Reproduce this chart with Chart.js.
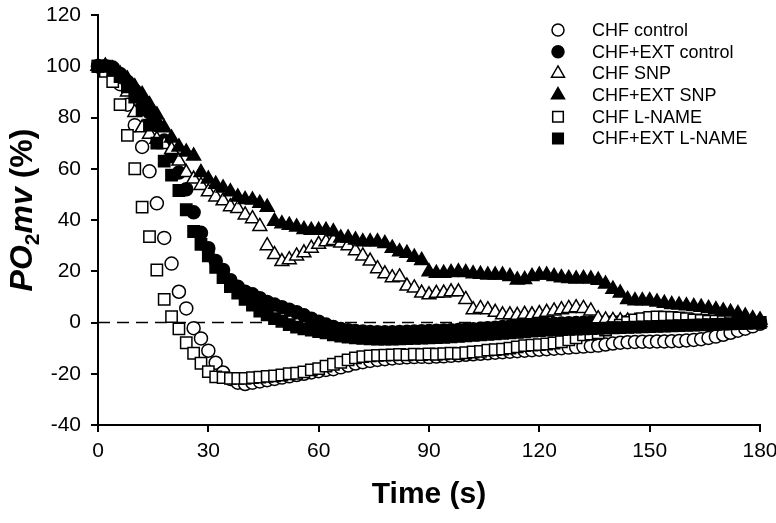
<!DOCTYPE html>
<html><head><meta charset="utf-8">
<script src="https://cdn.jsdelivr.net/npm/chart.js@4/dist/chart.umd.min.js"></script>
<style>html,body{margin:0;padding:0;background:#fff}#wrap{width:776px;height:523px}</style>
</head><body><div id="wrap"><canvas id="c" width="776" height="523"></canvas></div>
<script>
// ---- data (time in s, PO2mv in % of baseline) ----
const times = [0,2,4,6,8,10,12,14,16,18,20,22,24,26,28,30,32,34,36,38,40,42,44,46,48,50,52,54,56,58,
60,62,64,66,68,70,72,74,76,78,80,82,84,86,88,90,92,94,96,98,100,102,104,106,108,110,112,114,116,118,
120,122,124,126,128,130,132,134,136,138,140,142,144,146,148,150,152,154,156,158,160,162,164,166,168,170,172,174,176,178,180];

const seriesNames = ['CHF control','CHF+EXT control','CHF SNP','CHF+EXT SNP','CHF L-NAME','CHF+EXT L-NAME'];

const chfControl = [100,99.5,97.5,93,85,77,68.5,59,46.5,33,
 23,12,5.5,-2.2,-6.2,-11,-15.7,-19.5,-22,-23.5,
 -24,-23.5,-23,-22.5,-22,-21.5,-21,-20.5,-20,-19.5,
 -19,-18.5,-18.2,-17.5,-16.8,-16,-15.5,-15,-14.6,-14.3,
 -14,-13.8,-13.6,-13.5,-13.4,-13.5,-13.3,-13.2,-13,-12.8,
 -12.6,-12.4,-12.2,-12,-11.8,-11.6,-11.4,-11.2,-11,-10.8,
 -10.6,-10.4,-10.2,-10,-9.8,-9.6,-9.4,-9.2,-9,-8.6,
 -8.2,-7.9,-7.7,-7.6,-7.5,-7.5,-7.4,-7.4,-7.3,-7.2,
 -7,-6.8,-6.5,-6,-5.5,-4.8,-4,-3.2,-2.4,-1.5,
 -0.5];

const extControl = [100,100,99.5,97,94,90.5,87,82,77,71,
 65,58.5,52,43,35,29,24,20.5,16.5,14,
 12,11,9.5,8,7,6,5,4,2.8,1.5,
 0.3,-0.8,-1.8,-2.5,-3,-3.3,-3.5,-3.7,-3.8,-3.8,
 -3.8,-3.7,-3.6,-3.5,-3.4,-3.3,-3.2,-3.1,-3,-2.9,
 -2.8,-2.6,-2.4,-2.2,-2,-1.8,-1.6,-1.4,-1.2,-1,
 -0.8,-0.6,-0.5,-0.4,-0.3,-0.2,-0.1,0,0,0.1,
 0.2,0.2,0.3,0.3,0.3,0.3,0.3,0.3,0.2,0.2,
 0.2,0.2,0.1,0.1,0.1,0.1,0,0,0,0,
 0];

const chfSNP = [100,100,98,95,90,82,76,73.5,71.5,69.5,
 67.5,63,58.5,56,53.5,51,49,47.5,45.2,44.5,
 42,40.5,37.5,30,26.5,23.8,24.5,26,27.2,29,
 30.5,31.5,32,31,30,28,26,24,21,19,
 17.5,17.8,14.2,13.5,11.5,10.8,11.4,11.5,12,12,
 9,5,5.5,5,4,3,3,2.8,3.2,3,
 3.5,4,4.5,5,5.5,5.8,5.5,4.5,1.5,1,
 0.8,0.7,0.6,0.5,0.5,0.5,0.6,0.5,0.4,0.4,
 0.3,0.3,0.3,0.2,0.2,0.3,0.5,1,0.5,0.2,
 0];

const extSNP = [100,100,99,97,95,92,89,85,81,76,
 72,68.5,66.5,65,58.5,56,54,52.5,51,49,
 48,47.8,46.5,45,39.5,38.5,38,37.3,36.3,36,
 36,36,35.4,33,33,32.2,31.5,31.5,31.5,30.8,
 29,27.6,27,25.5,24.2,19.8,19.2,19.2,19.5,19.8,
 19.5,19,18.8,18.5,18.5,18.5,18,16.6,16.8,18,
 18.5,18.5,18,17.5,17.2,17,17.2,17,16.5,15,
 13,11.5,9,8.5,8.5,8.5,8,7.5,7,6.8,
 6.5,6.2,6,5.5,5,4.5,4,3.5,2.5,1.5,
 1];

const chfLNAME = [100,98,94,85,73,60,45,33.5,20.5,9,
 2.3,-2.5,-7.9,-12,-15.9,-19.2,-21.2,-21.5,-21.8,-21.8,
 -21.8,-21.5,-21.3,-21,-20.8,-20.5,-20,-19.8,-19.3,-18.5,
 -18,-17,-16.3,-15.5,-14.6,-13.8,-13.3,-13,-12.8,-12.7,
 -12.6,-12.5,-12.6,-12.4,-12.5,-12.3,-12.4,-12.2,-12,-12.1,
 -11.8,-11.5,-11.3,-10.8,-10.6,-10.4,-10,-9.5,-9,-8.8,
 -8.6,-8.4,-8,-7.5,-6.8,-6,-4.8,-4.5,-4,-3,
 -2,-1,0,1,1.5,2,2.2,2.1,2,1.8,
 1.5,1,0.8,0.5,0.5,0.3,0.3,0.2,0.1,0,
 0];

const extLNAME = [100,100,98.5,96,92,88,83,77,70,63,
 57.5,51.5,44,35.5,30.5,26,21.5,17.5,14,11.5,
 9,6.8,4.5,3,1.5,0.5,-0.8,-1.8,-2.5,-3,
 -3.5,-4,-4.8,-5.3,-5.7,-6,-6.2,-6.4,-6.5,-6.5,
 -6.5,-6.4,-6.3,-6.2,-6.1,-6,-5.9,-5.8,-5.6,-5.4,
 -5.2,-5,-4.8,-4.6,-4.4,-4.2,-4,-3.8,-3.6,-3.4,
 -3.2,-3,-2.9,-2.8,-2.7,-2.6,-2.5,-2.4,-2.3,-2.2,
 -2.1,-2,-1.9,-1.8,-1.7,-1.6,-1.5,-1.4,-1.3,-1.2,
 -1.1,-1,-0.9,-0.8,-0.7,-0.6,-0.5,-0.4,-0.3,-0.1,
 0];

const seriesValues = [chfControl, extControl, chfSNP, extSNP, chfLNAME, extLNAME];
const xTicks = [0, 30, 60, 90, 120, 150, 180];
const yTicks = [-40, -20, 0, 20, 40, 60, 80, 100, 120];
const referenceLine = [0, 0];

// ---- styles ----
const FONT = "'Liberation Sans', Arial, Helvetica, sans-serif";
const markers = ['circle','circle','triangle','triangle','rect','rect'];
const fills   = ['#ffffff','#000000','#ffffff','#000000','#ffffff','#000000'];
const radii   = [6.5, 6.5, 8, 8, 8, 8];

const datasets = seriesNames.map((name, i) => ({
  label: name,
  data: seriesValues[i].map((v, k) => ({x: times[k], y: v})),
  showLine: false,
  pointStyle: markers[i],
  pointRadius: radii[i],
  pointBackgroundColor: fills[i],
  pointBorderColor: '#000',
  pointBorderWidth: 1.5,
  clip: false,
  order: 10 - i
}));
datasets.push({
  label: 'zero',
  data: [{x: xTicks[0], y: referenceLine[0]}, {x: xTicks[xTicks.length-1], y: referenceLine[1]}],
  showLine: true,
  borderColor: '#000',
  borderWidth: 1.5,
  borderDash: [12, 7],
  pointRadius: 0,
  order: 100
});

const legendPlugin = {
  id: 'sideLegend',
  afterDraw(chart) {
    const ctx = chart.ctx;
    ctx.save();
    seriesNames.forEach((name, i) => {
      const y = 30 + i * 21.7;
      ctx.fillStyle = fills[i];
      ctx.strokeStyle = '#000';
      ctx.lineWidth = 1.5;
      Chart.helpers.drawPoint(ctx, {pointStyle: markers[i], rotation: 0, radius: radii[i] - 0.5, borderWidth: 1.5}, 558, y);
      ctx.fillStyle = '#000';
      ctx.font = `18px ${FONT}`;
      ctx.textBaseline = 'middle';
      ctx.textAlign = 'left';
      ctx.fillText(name, 592, y + 1);
    });
    ctx.restore();
  }
};

const yTitlePlugin = {
  id: 'yTitle',
  afterDraw(chart) {
    const ctx = chart.ctx;
    const parts = [
      {t: 'PO', f: `italic bold 32px ${FONT}`, dy: 0},
      {t: '2', f: `bold 21px ${FONT}`, dy: 7},
      {t: 'mv', f: `italic bold 32px ${FONT}`, dy: 0},
      {t: ' (%)', f: `bold 32px ${FONT}`, dy: 0}
    ];
    ctx.save();
    let total = 0;
    parts.forEach(p => { ctx.font = p.f; p.w = ctx.measureText(p.t).width; total += p.w; });
    ctx.translate(21, 210);
    ctx.rotate(-Math.PI / 2);
    ctx.fillStyle = '#000';
    ctx.textBaseline = 'alphabetic';
    ctx.textAlign = 'left';
    let x = -total / 2;
    parts.forEach(p => { ctx.font = p.f; ctx.fillText(p.t, x, 11 + p.dy); x += p.w; });
    ctx.restore();
  }
};

new Chart(document.getElementById('c'), {
  type: 'scatter',
  data: { datasets },
  plugins: [legendPlugin, yTitlePlugin],
  options: {
    responsive: false,
    animation: false,
    events: [],
    layout: { padding: { top: 15, right: 16, left: 0, bottom: 0 } },
    plugins: { legend: { display: false }, tooltip: { enabled: false } },
    scales: {
      x: {
        type: 'linear', min: xTicks[0], max: xTicks[xTicks.length-1],
        afterBuildTicks: s => { s.ticks = xTicks.map(v => ({value: v})); },
        ticks: { color: '#000', font: { family: FONT, size: 21 }, padding: 7, maxRotation: 0 },
        grid: { drawOnChartArea: false, drawTicks: true, tickLength: 7, color: '#000', lineWidth: 2 },
        border: { display: true, color: '#000', width: 2 },
        title: { display: true, text: 'Time (s)', color: '#000', font: { family: FONT, size: 30, weight: 'bold' }, padding: { top: 0, bottom: 10 } },
        afterFit: s => { s.height = 98; s.paddingLeft = 0; s.paddingRight = 0; }
      },
      y: {
        type: 'linear', min: yTicks[0], max: yTicks[yTicks.length-1],
        afterBuildTicks: s => { s.ticks = yTicks.map(v => ({value: v})); },
        ticks: { color: '#000', font: { family: FONT, size: 21 }, padding: 10 },
        grid: { drawOnChartArea: false, drawTicks: true, tickLength: 7, color: '#000', lineWidth: 2 },
        border: { display: true, color: '#000', width: 2 },
        title: { display: false },
        afterFit: s => { s.width = 98; s.paddingTop = 0; s.paddingBottom = 0; }
      }
    }
  }
});
</script>
</body></html>
